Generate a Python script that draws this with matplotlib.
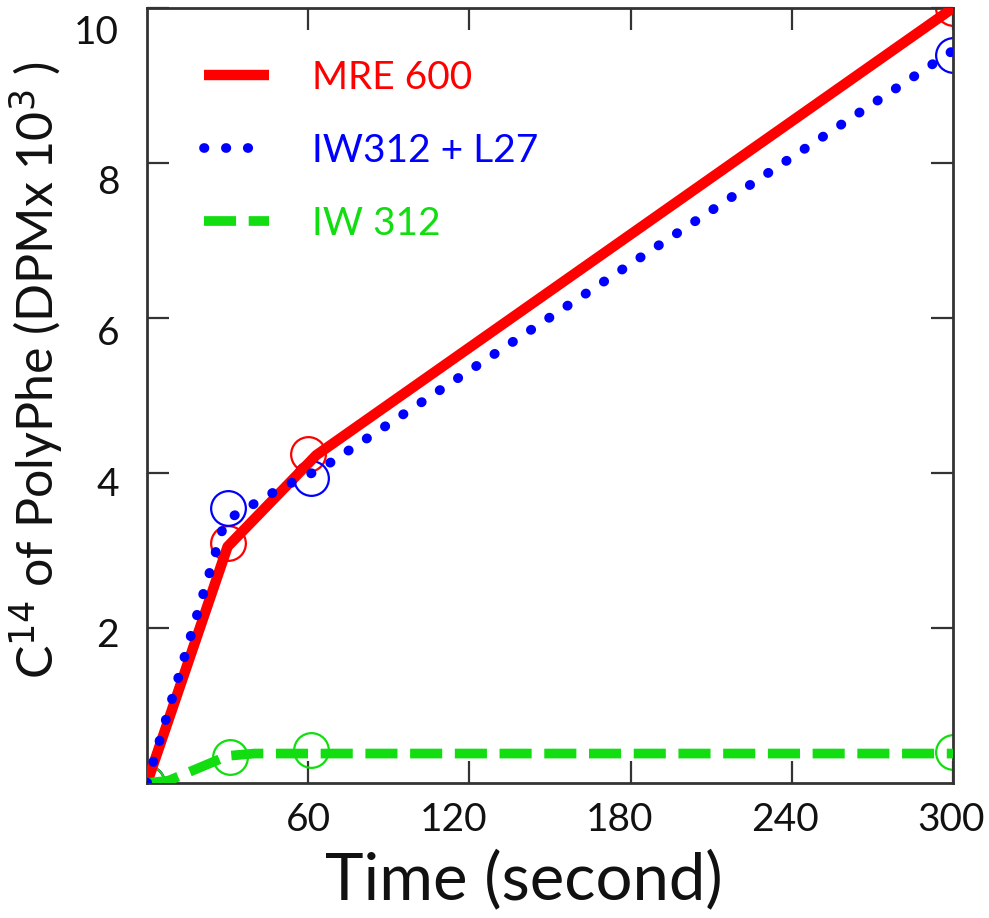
import matplotlib
matplotlib.use("Agg")
import matplotlib.pyplot as plt
import matplotlib.transforms as mtransforms

plt.rcParams['font.family'] = ['Lato', 'DejaVu Sans']

# ---- data ----
# fitted curves
mre_t = [0, 30, 63, 300]
mre_y = [0, 3.05, 4.23, 10.0]
iwl_t = [0, 29, 50, 65, 300]
iwl_y = [0, 3.38, 3.81, 4.06, 9.45]
iw_t = [0, 8, 30, 40, 300]
iw_y = [0, 0.03, 0.35, 0.38, 0.38]
# observed points (hollow circles)
mre_pt_t = [0, 30, 60, 300]
mre_pt_y = [0, 3.1, 4.25, 10.0]
iwl_pt_t = [0, 30, 61, 300]
iwl_pt_y = [0, 3.55, 3.94, 9.4]
iw_pt_t = [0, 31, 61, 300]
iw_pt_y = [0, 0.33, 0.42, 0.40]

labels = ["MRE 600", "IW312 + L27", "IW 312"]
xticks = [60, 120, 180, 240, 300]
yticks = [2, 4, 6, 8, 10]

red = '#ff0000'
blue = '#0000ff'
green = '#11dd11'

fig = plt.figure(figsize=(9.89, 9.18), dpi=100)
ax = fig.add_axes([147/989, 1-783/918, 806/989, 775/918])

ms = 25
ax.plot(mre_pt_t, mre_pt_y, 'o', ms=ms, mfc='none', mec=red, mew=1.6, zorder=2)
ax.plot(iwl_pt_t, iwl_pt_y, 'o', ms=ms, mfc='none', mec=blue, mew=1.6, zorder=2)
ax.plot(iw_pt_t, iw_pt_y, 'o', ms=ms, mfc='none', mec=green, mew=1.6, zorder=2)

l1, = ax.plot(mre_t, mre_y, color=red, lw=7.5, solid_joinstyle='round',
              solid_capstyle='butt', zorder=3, label=labels[0])
l2, = ax.plot(iwl_t, iwl_y, color=blue, lw=7, linestyle=(0, (0.05, 2.2)),
              dash_capstyle='round', zorder=4, label=labels[1])
l3, = ax.plot(iw_t, iw_y, color=green, lw=7, linestyle=(0, (3.3, 1.3)), zorder=3, label=labels[2])

ax.set_xlim(0, 300)
ax.set_ylim(0, 10)
ax.set_xticks(xticks)
ax.set_yticks(yticks)
ax.set_xticklabels([str(v) for v in xticks])
ax.set_yticklabels([str(v) for v in yticks])

for s in ax.spines.values():
    s.set_linewidth(2.0)
    s.set_color('#333333')

ax.tick_params(axis='both', direction='in', length=16, width=1.6, color='#333333',
               top=True, right=True, labelsize=28, labelcolor='#111111')
ax.tick_params(axis='x', pad=14)
ax.tick_params(axis='y', pad=20)

# small label shifts as in the reference
for lab, v in zip(ax.get_yticklabels(), yticks):
    off = mtransforms.ScaledTranslation(0, -2.1 * v / 100, fig.dpi_scale_trans)
    lab.set_transform(lab.get_transform() + off)
xoffs = [0, -16, -11, -7, -2]
for lab, o in zip(ax.get_xticklabels(), xoffs):
    off = mtransforms.ScaledTranslation(o / 100, 0, fig.dpi_scale_trans)
    lab.set_transform(lab.get_transform() + off)

ax.set_xlabel("Time (second)", fontsize=47, color='#111111')
ax.xaxis.set_label_coords(0.467, -0.086, transform=ax.transAxes)
ax.xaxis.label.set_va('top')
ax.set_ylabel("C$^{14}$ of PolyPhe (DPMx 10$^{3}$ )", fontsize=36, color='#111111')
ax.yaxis.set_label_coords(-0.102, 0.533, transform=ax.transAxes)

leg = ax.legend(handles=[l1, l2, l3], loc='upper left', bbox_to_anchor=(0.027, 0.978),
                frameon=False, fontsize=28, handlelength=1.67, handletextpad=1.12,
                labelspacing=0.95, labelcolor=[red, blue, green])

fig.savefig('out.png', dpi=100)
